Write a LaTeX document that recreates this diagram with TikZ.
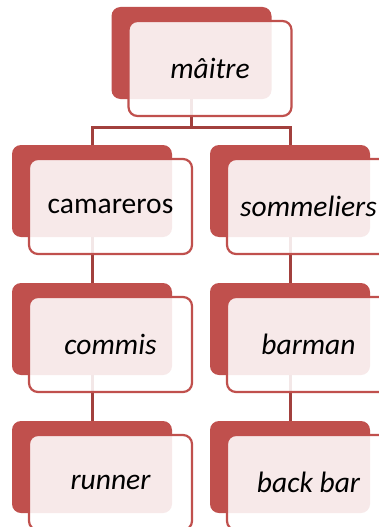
\documentclass[tikz,border=0pt]{standalone}
\usepackage{fontspec}
\setmainfont{Carlito}
\definecolor{accred}{HTML}{C0504D}
\definecolor{linered}{HTML}{A2403D}
\tikzset{
  backbox/.style={fill=accred, rounded corners=9pt, minimum width=160pt, minimum height=92pt, inner sep=0pt, draw=none},
  frontbox/.style={draw=accred, line width=2.2pt, fill=white, fill opacity=0.88, text opacity=1, rounded corners=9pt, minimum width=163pt, minimum height=95pt, inner sep=0pt, font=\fontsize{29.5}{33}\selectfont},
  conn/.style={draw=linered, line width=3pt},
}
\begin{document}
\begin{tikzpicture}[x=1pt,y=-1pt]
\useasboundingbox (0,0) rectangle (379,527);
\clip (0,0) rectangle (379,527);
\fill[white] (0,0) rectangle (379,527);
% back boxes
\node[backbox] (bm) at (191.5,53) {};
\node[backbox] (bc) at (92,191) {};
\node[backbox] (bs) at (290,191) {};
\node[backbox] (bco) at (92,329) {};
\node[backbox] (bba) at (290,329) {};
\node[backbox] (bru) at (92,467) {};
\node[backbox] (bbb) at (290,467) {};
% connectors
\coordinate (hub) at (191.5,127);
\draw[conn] (bm.south) -- (hub);
\draw[conn] (bc.north) |- (hub) -| (bs.north);
\draw[conn] (bc.south) -- (bco.north);
\draw[conn] (bco.south) -- (bru.north);
\draw[conn] (bs.south) -- (bba.north);
\draw[conn] (bba.south) -- (bbb.north);
% front boxes
\node[frontbox] (fm) at (210,68.5) {\itshape mâitre};
\node[frontbox] (fc) at (110.5,206.5) {\raisebox{-2pt}{camareros}};
\node[frontbox] (fs) at (308.5,206.5) {\itshape\raisebox{-2pt}{sommeliers}};
\node[frontbox] (fco) at (110.5,344.5) {\itshape commis};
\node[frontbox] (fba) at (308.5,344.5) {\itshape barman};
\node[frontbox] (fru) at (110.5,482.5) {\itshape runner};
\node[frontbox] (fbb) at (308.5,482.5) {\itshape back bar};
\end{tikzpicture}
\end{document}
